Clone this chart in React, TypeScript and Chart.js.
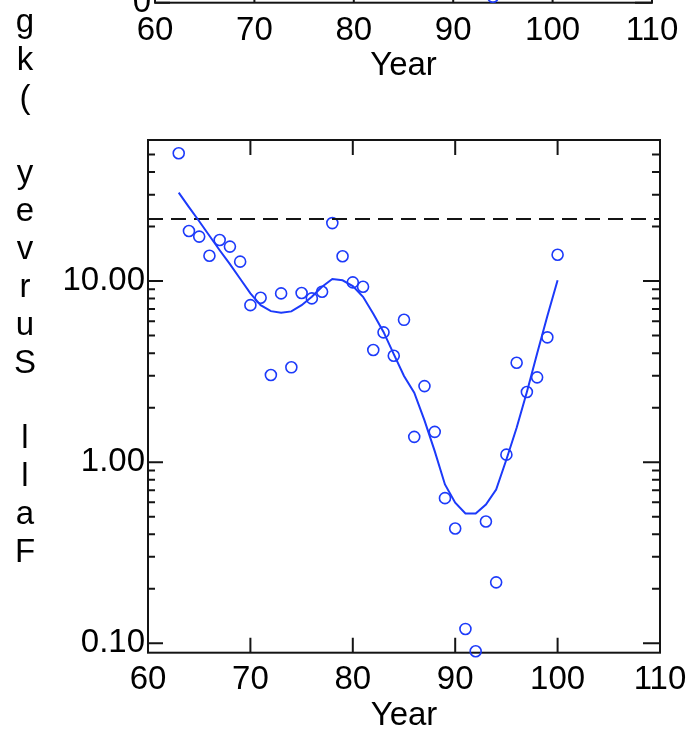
import React, { useEffect, useRef } from 'react';
import { Chart, registerables } from 'chart.js';

Chart.register(...registerables);

// Fall survey index by year (log scale) with its smoothed trend
const years = [63, 64, 65, 66, 67, 68, 69, 70, 71, 72, 73, 74, 75, 76, 77, 78, 79, 80, 81, 82, 83, 84, 85, 86, 87, 88, 89, 90, 91, 92, 93, 94, 95, 96, 97, 98, 99, 100];
const fallSurvey = [50.8, 18.9, 17.6, 13.8, 16.85, 15.5, 12.8, 7.36, 8.09, 3.03, 8.55, 3.34, 8.59, 8.02, 8.73, 20.9, 13.7, 9.83, 9.3, 4.16, 5.21, 3.87, 6.11, 1.38, 2.63, 1.47, 0.633, 0.43, 0.12, 0.0903, 0.47, 0.217, 1.1, 3.54, 2.44, 2.94, 4.89, 13.97];
const smoothFit = [30.8, 25.6, 21.4, 17.8, 14.8, 12.4, 10.3, 8.55, 7.36, 6.82, 6.68, 6.8, 7.36, 8.19, 9.3, 10.26, 10.1, 9.38, 8.19, 6.6, 5.24, 3.95, 2.99, 2.42, 1.7, 1.15, 0.753, 0.597, 0.521, 0.521, 0.584, 0.706, 1.035, 1.55, 2.44, 3.98, 6.41, 10.1];
const referenceLevel = 22;

const xTicks = [60, 70, 80, 90, 100, 110];
const yMajorTicks = [0.1, 1, 10];
const yMinorTicks = [0.2, 0.3, 0.4, 0.5, 0.6, 0.7, 0.8, 0.9, 2, 3, 4, 5, 6, 7, 8, 9, 20, 30, 40, 50];
const yTitle = 'Fall Survey (kg';
const xTitle = 'Year';

// Panel above: only its lower edge shows
const upperYears = [94];
const upperValues = [2];
const upperYTicks = [0];

const FONT = '"Liberation Sans", Arial, Helvetica, sans-serif';
const BLUE = 'rgb(28, 58, 250)';
const INK = '#141414';

// Box frame with inward-pointing tick marks on all four sides
const frameTicks = {
  id: 'frameTicks',
  beforeDatasetsDraw(chart: any, _args: any, opts: any) {
    const { ctx, chartArea: a, scales } = chart;
    const xs = scales.x;
    const ys = scales.y;
    ctx.save();
    ctx.strokeStyle = INK;
    ctx.lineWidth = 2;
    ctx.strokeRect(a.left, a.top, a.right - a.left, a.bottom - a.top);
    ctx.beginPath();
    for (const v of opts.xMajor) {
      const px = xs.getPixelForValue(v);
      if (px <= a.left + 1 || px >= a.right - 1) continue;
      ctx.moveTo(px, a.bottom);
      ctx.lineTo(px, a.bottom - opts.majorLen);
      ctx.moveTo(px, a.top);
      ctx.lineTo(px, a.top + opts.majorLen);
    }
    const yTick = (v: number, len: number, rlen: number) => {
      const py = ys.getPixelForValue(v);
      ctx.moveTo(a.left, py);
      ctx.lineTo(a.left + len, py);
      ctx.moveTo(a.right, py);
      ctx.lineTo(a.right - rlen, py);
    };
    for (const v of opts.yMajor) yTick(v, opts.majorLen, opts.majorLen + 2);
    for (const v of opts.yMinor) yTick(v, opts.minorLen, opts.minorLen + 1);
    ctx.stroke();
    ctx.restore();
  },
};

// Axis title written as upright letters stacked from bottom to top
const stackedTitle = {
  id: 'stackedTitle',
  afterDraw(chart: any, _args: any, opts: any) {
    if (!opts || !opts.text) return;
    const { ctx } = chart;
    ctx.save();
    ctx.font = `${opts.size}px ${FONT}`;
    ctx.fillStyle = '#000';
    ctx.textAlign = 'center';
    ctx.textBaseline = 'alphabetic';
    Array.from(opts.text as string).forEach((ch, i) => {
      if (ch !== ' ') ctx.fillText(ch, opts.x, opts.baseline - i * opts.pitch);
    });
    ctx.restore();
  },
};

const tickFont = { family: FONT, size: 33, lineHeight: 1 };

function lowerConfig(): any {
  return {
    type: 'scatter',
    data: {
      datasets: [
        {
          label: 'Trend',
          data: years.map((yr, i) => ({ x: yr, y: smoothFit[i] })),
          showLine: true,
          borderColor: BLUE,
          borderWidth: 2,
          pointRadius: 0,
          tension: 0,
          fill: false,
        },
        {
          label: 'Reference',
          data: [
            { x: 60, y: referenceLevel },
            { x: 110, y: referenceLevel },
          ],
          showLine: true,
          borderColor: INK,
          borderWidth: 2,
          borderDash: [15, 8],
          pointRadius: 0,
          fill: false,
        },
        {
          label: 'Fall Survey',
          data: years.map((yr, i) => ({ x: yr, y: fallSurvey[i] })),
          showLine: false,
          pointStyle: 'circle',
          pointRadius: 5.5,
          pointBorderWidth: 1.6,
          borderColor: BLUE,
          backgroundColor: 'rgba(0,0,0,0)',
          clip: false,
        },
      ],
    },
    options: {
      responsive: false,
      animation: false,
      devicePixelRatio: 1,
      layout: { padding: { left: 0, top: 140, right: 36, bottom: 0 } },
      plugins: {
        legend: { display: false },
        tooltip: { enabled: false },
        frameTicks: { xMajor: xTicks, yMajor: yMajorTicks, yMinor: yMinorTicks, majorLen: 15, minorLen: 7 },
        stackedTitle: { text: yTitle, x: 25, baseline: 562, pitch: 37.86, size: 33 },
      },
      scales: {
        x: {
          type: 'linear',
          min: 60,
          max: 110,
          afterBuildTicks: (s: any) => {
            s.ticks = xTicks.map((v) => ({ value: v }));
          },
          afterFit: (s: any) => {
            s.height = 83.3;
            s.paddingLeft = 0;
            s.paddingRight = 0;
          },
          grid: { display: false, drawTicks: false },
          border: { display: false },
          ticks: { font: tickFont, color: '#000', padding: 11, maxRotation: 0, autoSkip: false, callback: (v: any) => String(v) },
          title: { display: true, text: xTitle, color: '#000', font: tickFont, padding: { top: 0, bottom: 3.5 } },
        },
        y: {
          type: 'logarithmic',
          min: 0.0887,
          max: 60.1,
          afterBuildTicks: (s: any) => {
            s.ticks = yMajorTicks.map((v) => ({ value: v }));
          },
          afterFit: (s: any) => {
            s.width = 148;
            s.paddingTop = 0;
            s.paddingBottom = 0;
          },
          grid: { display: false, drawTicks: false },
          border: { display: false },
          ticks: { font: tickFont, color: '#000', padding: 3, autoSkip: false, callback: (v: any) => Number(v).toFixed(2) },
        },
      },
    },
    plugins: [frameTicks, stackedTitle],
  };
}

function upperConfig(): any {
  return {
    type: 'scatter',
    data: {
      datasets: [
        {
          label: 'Upper panel',
          data: upperYears.map((yr, i) => ({ x: yr, y: upperValues[i] })),
          showLine: false,
          pointStyle: 'circle',
          pointRadius: 5.5,
          pointBorderWidth: 1.6,
          borderColor: BLUE,
          backgroundColor: 'rgba(0,0,0,0)',
          clip: false,
        },
      ],
    },
    options: {
      responsive: false,
      animation: false,
      devicePixelRatio: 1,
      layout: { padding: { left: 0, top: 12, right: 44, bottom: 0 } },
      plugins: {
        legend: { display: false },
        tooltip: { enabled: false },
        frameTicks: { xMajor: xTicks, yMajor: upperYTicks, yMinor: [], majorLen: 15, minorLen: 7 },
      },
      scales: {
        x: {
          type: 'linear',
          min: 60,
          max: 110,
          afterBuildTicks: (s: any) => {
            s.ticks = xTicks.map((v) => ({ value: v }));
          },
          afterFit: (s: any) => {
            s.height = 87.3;
            s.paddingLeft = 0;
            s.paddingRight = 0;
          },
          grid: { display: false, drawTicks: false },
          border: { display: false },
          ticks: { font: tickFont, color: '#000', padding: 12, maxRotation: 0, autoSkip: false, callback: (v: any) => String(v) },
          title: { display: true, text: xTitle, color: '#000', font: tickFont, padding: { top: 0, bottom: 8 } },
        },
        y: {
          type: 'linear',
          min: 0,
          max: 100,
          afterBuildTicks: (s: any) => {
            s.ticks = upperYTicks.map((v) => ({ value: v }));
          },
          afterFit: (s: any) => {
            s.width = 155;
            s.paddingTop = 0;
            s.paddingBottom = 0;
          },
          grid: { display: false, drawTicks: false },
          border: { display: false },
          ticks: { font: tickFont, color: '#000', padding: 4, autoSkip: false, callback: (v: any) => String(v) },
        },
      },
    },
    plugins: [frameTicks],
  };
}

function ChartCanvas({ config, width, height, top }: { config: () => any; width: number; height: number; top: number }) {
  const ref = useRef<HTMLCanvasElement | null>(null);
  useEffect(() => {
    if (!ref.current) return;
    const chart = new Chart(ref.current, config());
    return () => chart.destroy();
  }, [config]);
  return (
    <canvas
      ref={ref}
      width={width}
      height={height}
      style={{ position: 'absolute', left: 0, top, width, height, display: 'block' }}
    />
  );
}

export default function App() {
  return (
    <div
      style={{
        position: 'absolute',
        left: 0,
        top: 0,
        width: 696,
        height: 736,
        overflow: 'hidden',
        background: '#fff',
      }}
    >
      <ChartCanvas config={upperConfig} width={696} height={400} top={-310} />
      <ChartCanvas config={lowerConfig} width={696} height={736} top={0} />
    </div>
  );
}
